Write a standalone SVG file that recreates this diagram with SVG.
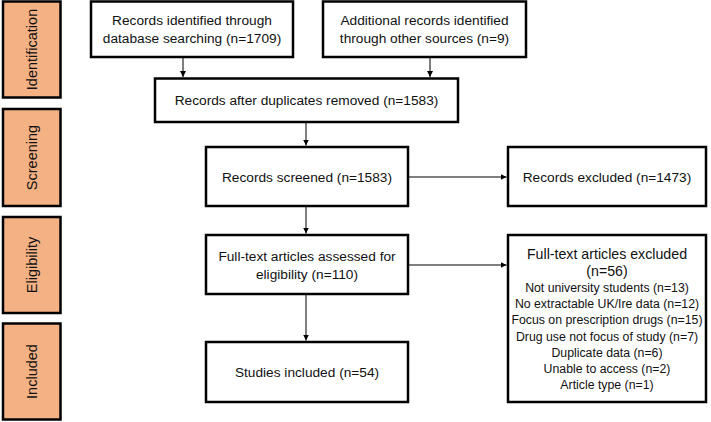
<svg xmlns="http://www.w3.org/2000/svg" width="711" height="422" viewBox="0 0 711 422">
<style>
.side{fill:#F4B183;stroke:#000;stroke-width:2.5}
.box{fill:#fff;stroke:#000;stroke-width:2.5}
text{font-family:"Liberation Sans",Arial,sans-serif;font-size:13.7px;fill:#111;text-anchor:middle;dominant-baseline:central}
.sl{font-size:14.5px}
.li{font-size:12.3px}
.conn line{stroke:#000;stroke-width:1}
</style>
<defs>
<marker id="ah" viewBox="0 0 8 8" refX="8" refY="4" markerWidth="6" markerHeight="6" markerUnits="userSpaceOnUse" orient="auto">
<path d="M0,0 L8,4 L0,8 z" fill="#000"/>
</marker>
</defs>
<rect width="711" height="422" fill="#fff"/>
<g id="side-identification"><rect class="side" x="3" y="1.5" width="57.5" height="96"/><text class="sl" transform="translate(32,49.5) rotate(-90)">Identification</text></g>
<g id="side-screening"><rect class="side" x="3" y="109" width="57.5" height="97"/><text class="sl" transform="translate(32,157.5) rotate(-90)">Screening</text></g>
<g id="side-eligibility"><rect class="side" x="3" y="217" width="57.5" height="96"/><text class="sl" transform="translate(32,265) rotate(-90)">Eligibility</text></g>
<g id="side-included"><rect class="side" x="3" y="323.5" width="57.5" height="96"/><text class="sl" transform="translate(32,371.5) rotate(-90)">Included</text></g>

<g id="n-database"><rect class="box" x="91" y="1.5" width="202" height="55.5"/><text x="192" y="20">Records identified through</text><text x="192" y="38">database searching (n=1709)</text></g>
<g id="n-other"><rect class="box" x="323" y="1.5" width="203" height="55.5"/><text x="424.5" y="20">Additional records identified</text><text x="424.5" y="38">through other sources (n=9)</text></g>
<g id="n-duplicates"><rect class="box" x="155" y="78.5" width="303" height="43.5"/><text x="306.5" y="100.5">Records after duplicates removed (n=1583)</text></g>
<g id="n-screened"><rect class="box" x="206" y="147" width="202" height="59"/><text x="307" y="177">Records screened (n=1583)</text></g>
<g id="n-excluded"><rect class="box" x="508" y="147" width="198" height="59"/><text x="607" y="177">Records excluded (n=1473)</text></g>
<g id="n-fulltext"><rect class="box" x="206" y="235" width="202" height="59"/><text x="307" y="256">Full-text articles assessed for</text><text x="307" y="274">eligibility (n=110)</text></g>
<g id="n-ftexcluded"><rect class="box" x="508" y="235" width="198" height="167"/>
<text x="607" y="253.5" style="font-size:14.2px">Full-text articles excluded</text>
<text x="607" y="270.5" style="font-size:14.2px">(n=56)</text>
<text class="li" x="607" y="288">Not university students (n=13)</text>
<text class="li" x="607" y="304">No extractable UK/Ire data (n=12)</text>
<text class="li" x="607" y="320">Focus on prescription drugs (n=15)</text>
<text class="li" x="607" y="336.5">Drug use not focus of study (n=7)</text>
<text class="li" x="607" y="352.5">Duplicate data (n=6)</text>
<text class="li" x="607" y="369">Unable to access (n=2)</text>
<text class="li" x="607" y="385">Article type (n=1)</text>
</g>
<g id="n-included"><rect class="box" x="206" y="342" width="202" height="60"/><text x="307" y="372">Studies included (n=54)</text></g>

<g id="connectors" class="conn">
<line x1="183" y1="57" x2="183" y2="77" marker-end="url(#ah)"/>
<line x1="430" y1="57" x2="430" y2="77" marker-end="url(#ah)"/>
<line x1="306" y1="122" x2="306" y2="145.5" marker-end="url(#ah)"/>
<line x1="408" y1="177" x2="506.5" y2="177" marker-end="url(#ah)"/>
<line x1="306" y1="206" x2="306" y2="233.5" marker-end="url(#ah)"/>
<line x1="408" y1="265" x2="506.5" y2="265" marker-end="url(#ah)"/>
<line x1="306" y1="294" x2="306" y2="340.5" marker-end="url(#ah)"/>
</g>
</svg>
